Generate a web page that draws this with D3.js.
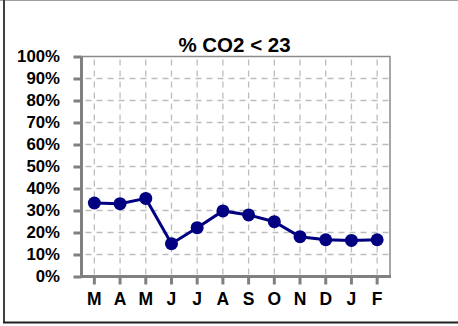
<!DOCTYPE html>
<html><head><meta charset="utf-8">
<script src="https://cdn.jsdelivr.net/npm/d3@7"></script>
<style>body{margin:0;background:#fff}svg{display:block}</style>
</head><body>
<script>
const categories = ["M","A","M","J","J","A","S","O","N","D","J","F"];
const values = [33.4, 33.1, 35.5, 14.9, 22.2, 29.8, 28.0, 24.9, 18.1, 16.7, 16.4, 16.7];
const yTicks = [0,10,20,30,40,50,60,70,80,90,100];
const title = "% CO2 < 23";

const W = 458, H = 326;
const FONT = "Liberation Sans, Arial, sans-serif";
const svg = d3.select("body").append("svg").attr("width", W).attr("height", H);
const m = {left: 81.5, right: 390, top: 56.5, bottom: 276.5};

// frame
svg.append("line").attr("x1",0).attr("x2",W).attr("y1",0.5).attr("y2",0.5).attr("stroke","#a0a0a0").attr("stroke-width",1);
svg.append("line").attr("x1",4).attr("x2",4).attr("y1",0).attr("y2",323).attr("stroke","#404040").attr("stroke-width",2);
svg.append("line").attr("x1",3).attr("x2",W).attr("y1",322.5).attr("y2",322.5).attr("stroke","#202020").attr("stroke-width",2);

const idx = categories.map((d,i)=>i);
const x = d3.scaleBand().domain(idx).range([m.left, m.right]);
const y = d3.scaleLinear().domain([0,100]).range([m.bottom, m.top]);
const cx = i => x(i) + x.bandwidth()/2;

// grid
const g = svg.append("g");
g.selectAll(".hg").data(yTicks.filter(t=>t>0 && t<100)).join("line")
  .attr("x1", m.left).attr("x2", m.right).attr("y1", d=>y(d)).attr("y2", d=>y(d))
  .attr("stroke","#bdbdbd").attr("stroke-width",1.3).attr("stroke-dasharray","6,5").attr("stroke-dashoffset",-4);
g.selectAll(".vg").data(idx).join("line")
  .attr("x1", d=>cx(d)).attr("x2", d=>cx(d)).attr("y1", m.top).attr("y2", m.bottom)
  .attr("stroke","#bdbdbd").attr("stroke-width",1.3).attr("stroke-dasharray","6,5").attr("stroke-dashoffset",-3);

// top/right border
svg.append("path").attr("d",`M${m.left},${m.top}H${m.right}V${m.bottom}`).attr("fill","none").attr("stroke","#8a8a8a").attr("stroke-width",1.5);

// axes
const yAxis = svg.append("g").attr("transform",`translate(${m.left},0)`)
  .call(d3.axisLeft(y).tickValues(yTicks).tickFormat(d=>d+"%").tickSize(8).tickPadding(13.5));
const xAxis = svg.append("g").attr("transform",`translate(0,${m.bottom})`)
  .call(d3.axisBottom(x).tickFormat(i=>categories[i]).tickSize(8).tickPadding(8));
[yAxis, xAxis].forEach(a=>{
  a.select(".domain").remove();
  a.attr("font-family", FONT).attr("font-weight","bold");
  a.selectAll(".tick line").attr("stroke","#808080").attr("stroke-width",3);
  a.selectAll("text").attr("fill","#000");
});
yAxis.attr("font-size", 16.8);
xAxis.attr("font-size", 17.5);
svg.append("path").attr("d",`M${m.left},${m.top}V${m.bottom}H${m.right+1}`).attr("fill","none").attr("stroke","#808080").attr("stroke-width",3);

// line
svg.append("path").datum(values)
  .attr("d", d3.line().x((d,i)=>cx(i)).y(d=>y(d)))
  .attr("fill","none").attr("stroke","#000080").attr("stroke-width",3);
svg.selectAll(".pt").data(values).join("circle")
  .attr("cx",(d,i)=>cx(i)).attr("cy",d=>y(d)).attr("r",6.5).attr("fill","#000080");

svg.append("text").attr("x",234.5).attr("y",52).attr("text-anchor","middle")
  .attr("font-family",FONT).attr("font-weight","bold").attr("font-size",20.5)
  .text(title);
</script>
</body></html>
